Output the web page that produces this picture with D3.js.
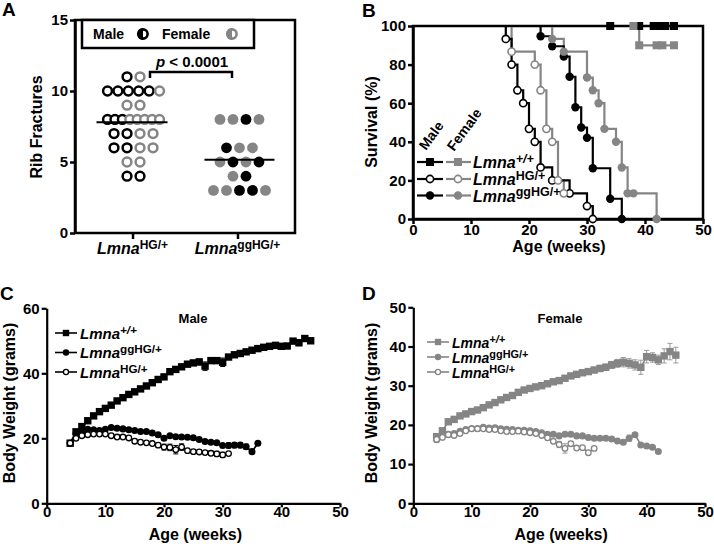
<!DOCTYPE html>
<html><head><meta charset="utf-8">
<script src="https://cdn.jsdelivr.net/npm/d3@7"></script>
<style>
body{margin:0;background:#fff}
</style></head><body>
<svg id="chart" width="714" height="550"></svg>
<script>
// ---------------- Panel A: rib fractures ----------------
const ribCategories = ["HG/+", "ggHG/+"];
const ribValuesHG = [11,11, 10,10,10,10,10,10, 9,9, 8,8,8,8,8,8,8,8, 7,7,7,7, 6,6,6,6, 5,5, 4,4];
const ribSexHG    = ["M","F", "M","M","M","M","M","F", "F","F", "M","M","M","F","F","F","F","F", "M","M","F","F", "M","M","F","F", "F","F", "M","M"];
const ribValuesGG = [8,8,8,8, 6,6,6, 5,5,5,5, 4,4, 3,3,3,3,3];
const ribSexGG    = ["F","F","M","F", "M","F","F", "F","M","F","M", "F","M", "F","F","M","M","F"];
const ribTicks = [0,5,10,15];
const pLabel = "p < 0.0001";

// ---------------- Panel B: survival ----------------
const survTicksX = [0,10,20,30,40,50];
const survTicksY = [0,20,40,60,80,100];
// [age, survival %] at each symbol
const survMaleWT   = [[34,100],[39,100],[41.5,100],[42.5,100],[43.5,100],[45,100]];
const survFemaleWT = [[38,100],[39,90],[42,90],[43,90],[45,90]];
const survMaleHG   = [[16,93.3],[17,80],[18,66.7],[19,60],[20,46.7],[21,40],[22,26.7],[24,20],[27,13.3],[30,6.7],[31,0]];
const survFemaleHG = [[17,86.7],[21,80],[22,66.7],[23,46.7],[24,40],[25,20],[26,13.3]];
const survMaleGG   = [[22,94.7],[24,89.5],[26,84.2],[27,73.7],[28,57.9],[29,47.4],[30,42.1],[31,26.3],[34,10.5],[36,0]];
const survFemaleGG = [[24,93.3],[26,86.7],[30,73.3],[31,66.7],[32,60],[33,46.7],[35,40],[36,26.7],[37,13.3],[38,13.3],[42,0]];

// ---------------- Panels C & D: body weight ----------------
const ageWeeks = [4,5,6,7,8,9,10,11,12,13,14,15,16,17,18,19,20,21,22,23,24,25,26,27,28,29,30,31,32,33,34,35,36,37,38,39,40,41,42,43,44,45];
const maleWT  = [18.5,22.0,23.6,25.4,26.9,28.2,29.2,30.2,31.5,32.5,33.5,34.3,35.2,36.1,37.1,38.1,38.9,40.5,41.2,42.0,42.8,43.2,43.5,42.2,43.9,43.9,43.4,45.0,45.7,46.1,46.6,47.1,47.6,48.0,48.3,48.6,48.3,48.4,49.9,49.4,50.7,50.0];
const maleWTErr = [0.4,0.5,0.5,0.5,0.5,0.5,0.5,0.5,0.5,0.5,0.5,0.5,0.5,0.5,0.5,0.5,0.5,0.6,0.6,0.6,0.6,0.7,0.9,1.3,0.7,0.8,1.3,0.7,0.6,0.6,0.6,0.6,0.6,0.6,0.6,0.6,0.6,0.6,0.6,0.9,0.8,0.8];
const maleGG  = [18.5,21.5,22.2,22.8,22.6,22.4,22.8,23.3,23.1,22.9,22.6,22.4,22.1,22.1,21.6,21.1,20.0,20.8,20.5,20.4,20.3,20.2,19.6,19.0,18.8,18.6,17.8,17.8,17.9,17.9,17.4,15.9,18.5];
const maleGGErr = [0.4,0.5,0.4,0.4,0.4,0.4,0.4,0.4,0.4,0.4,0.4,0.4,0.4,0.4,0.4,0.4,0.5,0.4,0.4,0.4,0.4,0.4,0.4,0.5,0.5,0.5,0.6,0.8,0.8,0.8,0.8,0.6,0.5];
const maleHG  = [18.5,20.0,20.8,21.1,21.3,21.3,21.3,20.8,20.4,20.4,20.1,19.1,18.8,18.6,18.4,17.9,17.3,17.2,16.5,17.3,16.2,15.9,15.8,15.6,15.4,15.2,14.9,15.3];
const maleHGErr = [0.4,0.5,0.5,0.5,0.5,0.5,0.5,0.5,0.5,0.5,0.5,0.5,0.5,0.5,0.5,0.6,0.9,1.0,1.3,1.0,0.6,0.5,0.5,0.5,0.7,0.8,0.8,0.6];
const femaleWT = [17.0,18.5,20.8,21.4,22.3,22.8,23.4,23.8,24.4,25.1,25.7,26.4,27.0,27.5,28.3,28.9,29.3,29.7,30.0,30.5,31.0,31.3,31.9,32.5,32.9,33.3,33.6,34.0,34.4,34.7,35.3,35.7,36.0,35.7,35.3,34.7,37.4,37.2,36.6,37.6,38.7,37.8];
const femaleWTErr = [0.5,0.6,0.5,0.5,0.5,0.5,0.5,0.5,0.5,0.5,0.5,0.5,0.5,0.5,0.5,0.5,0.5,0.5,0.5,0.6,0.6,0.6,0.6,0.6,0.6,0.7,0.7,0.7,0.8,0.8,0.9,1.0,1.2,1.2,1.3,1.8,1.6,1.2,1.2,1.8,2.1,2.0];
const femaleGG = [16.2,18.3,17.6,17.8,18.4,18.8,19.1,19.1,19.4,19.2,19.3,19.0,18.9,18.8,18.6,18.6,18.5,18.3,18.0,17.6,17.6,17.2,17.6,17.6,17.2,17.2,16.8,16.6,16.6,16.6,16.4,15.9,15.6,16.6,17.5,14.9,14.6,14.3,13.2];
const femaleGGErr = [0.5,0.5,0.4,0.4,0.4,0.4,0.4,0.4,0.4,0.4,0.4,0.4,0.4,0.4,0.4,0.4,0.4,0.4,0.4,0.4,0.4,0.4,0.4,0.4,0.4,0.4,0.4,0.4,0.4,0.4,0.4,0.5,0.6,0.8,0.5,0.4,0.4,0.4,0.4];
const femaleHG = [16.3,16.8,17.5,17.3,17.8,18.5,19.0,19.0,19.0,18.8,18.8,18.5,18.3,18.3,18.4,18.2,18.0,17.8,17.3,16.7,15.8,15.0,14.0,15.2,14.1,14.2,12.9,14.0];
const femaleHGErr = [0.5,0.5,0.5,0.5,0.5,0.5,0.5,0.5,0.5,0.5,0.5,0.5,0.5,0.5,0.5,0.5,0.5,0.5,0.5,0.6,0.6,0.8,1.2,0.6,0.5,0.5,0.5,0.5];
const weightTicksX = [0,10,20,30,40,50];
const maleTicksY = [0,20,40,60];
const femaleTicksY = [0,10,20,30,40,50];

// ---------------- drawing ----------------
const FONT = '"Liberation Sans", Arial, Helvetica, sans-serif';
const GRAY = "#858585";
const svg = d3.select("#chart").attr("font-family", FONT).attr("font-weight", "bold");

function styleAxis(g, w, fs) {
  g.attr("font-family", FONT).attr("font-size", fs).attr("font-weight", "bold");
  g.select(".domain").attr("stroke-width", w).attr("stroke", "#000");
  g.selectAll(".tick line").attr("stroke-width", w).attr("stroke", "#000");
  g.selectAll(".tick text").attr("fill", "#000");
}
function lmna(t, sup, fs, sfs, italicSup) {
  t.append("tspan").attr("font-style", "italic").text("Lmna");
  t.append("tspan").attr("font-size", sfs).attr("dy", -fs * 0.32)
    .attr("font-style", italicSup ? "italic" : "normal").text(sup);
}
function panelLetter(x, y, s) {
  svg.append("text").attr("x", x).attr("y", y).attr("font-size", 19).text(s);
}
function yTitle(x, y, s, fs) {
  svg.append("text").attr("transform", `translate(${x},${y}) rotate(-90)`)
    .attr("text-anchor", "middle").attr("font-size", fs).text(s);
}
function xTitle(x, y, s, fs) {
  svg.append("text").attr("x", x).attr("y", y).attr("text-anchor", "middle").attr("font-size", fs).text(s);
}

// ===== Panel A =====
{
  const x = d3.scalePoint().domain(ribCategories).range([75, 295]).padding(0.548);
  const y = d3.scaleLinear().domain([0, 15]).range([233, 20]);
  const gA = svg.append("g");
  gA.append("rect").attr("x", 75).attr("y", 20).attr("width", 220).attr("height", 213)
    .attr("fill", "none").attr("stroke", "#000").attr("stroke-width", 2.5);
  const ay = gA.append("g").attr("transform", "translate(75,0)")
    .call(d3.axisLeft(y).tickValues(ribTicks).tickSize(5).tickSizeOuter(0).tickPadding(2));
  styleAxis(ay, 2.5, 15);
  const ax = gA.append("g").attr("transform", "translate(0,233)")
    .call(d3.axisBottom(x).tickSize(6).tickSizeOuter(0).tickFormat(""));
  styleAxis(ax, 2.5, 15);
  ax.select(".domain").remove();

  ribCategories.forEach(c => {
    const t = gA.append("text").attr("x", x(c)).attr("y", 254).attr("text-anchor", "middle").attr("font-size", 16);
    lmna(t, c, 16, 12, false);
  });
  yTitle(42, 127, "Rib Fractures", 16);

  function layout(values, sexes, cx) {
    const rows = d3.group(values.map((v, i) => ({ v, s: sexes[i] })), d => d.v);
    const pts = [];
    rows.forEach(arr => {
      const n = arr.length;
      const sp = n > 5 ? 52 / (n - 1) : 13;
      arr.forEach((d, i) => pts.push({ x: cx + (i - (n - 1) / 2) * sp, y: y(d.v), s: d.s }));
    });
    return pts;
  }
  const ptsHG = layout(ribValuesHG, ribSexHG, x(ribCategories[0]) + 1);
  gA.selectAll("circle.hg").data(ptsHG).join("circle")
    .attr("cx", d => d.x).attr("cy", d => d.y).attr("r", 4.4)
    .attr("fill", "#fff").attr("stroke", d => d.s === "M" ? "#000" : GRAY).attr("stroke-width", 2.5);
  const ptsGG = layout(ribValuesGG, ribSexGG, x(ribCategories[1]) + 2);
  gA.selectAll("circle.gg").data(ptsGG).join("circle")
    .attr("cx", d => d.x).attr("cy", d => d.y).attr("r", 5.4)
    .attr("fill", d => d.s === "M" ? "#000" : GRAY);

  const meanHG = d3.mean(ribValuesHG), meanGG = d3.mean(ribValuesGG);
  gA.append("line").attr("x1", x(ribCategories[0]) - 36).attr("x2", x(ribCategories[0]) + 35)
    .attr("y1", y(meanHG)).attr("y2", y(meanHG)).attr("stroke", "#000").attr("stroke-width", 2);
  gA.append("line").attr("x1", x(ribCategories[1]) - 33).attr("x2", x(ribCategories[1]) + 37)
    .attr("y1", y(meanGG)).attr("y2", y(meanGG)).attr("stroke", "#000").attr("stroke-width", 2);

  // significance bracket
  gA.append("path").attr("d", "M150,78 V72 H232 V78").attr("fill", "none").attr("stroke", "#000").attr("stroke-width", 2.5);
  const pt = gA.append("text").attr("x", 192).attr("y", 67).attr("text-anchor", "middle").attr("font-size", 15);
  pt.append("tspan").attr("font-style", "italic").text(pLabel.slice(0, 1));
  pt.append("tspan").text(pLabel.slice(1));

  // legend box
  gA.append("rect").attr("x", 82).attr("y", 20).attr("width", 172).attr("height", 28)
    .attr("fill", "#fff").attr("stroke", "#000").attr("stroke-width", 2.5);
  function halfCircle(cx, cy, col) {
    gA.append("circle").attr("cx", cx).attr("cy", cy).attr("r", 4.6).attr("fill", "#fff").attr("stroke", col).attr("stroke-width", 2.6);
    gA.append("path").attr("d", `M${cx},${cy - 5.9} A5.9,5.9 0 0 0 ${cx},${cy + 5.9} Z`).attr("fill", col);
  }
  gA.append("text").attr("x", 93).attr("y", 39).attr("font-size", 14).text("Male");
  halfCircle(143, 34, "#000");
  gA.append("text").attr("x", 162).attr("y", 39).attr("font-size", 14).text("Female");
  halfCircle(232, 34, GRAY);
  panelLetter(2, 16, "A");
}

// ===== Panel B =====
{
  const x = d3.scaleLinear().domain([0, 50]).range([413, 703]);
  const y = d3.scaleLinear().domain([0, 100]).range([219, 26]);
  const g = svg.append("g");
  g.append("rect").attr("x", 413).attr("y", 26).attr("width", 290).attr("height", 193)
    .attr("fill", "none").attr("stroke", "#000").attr("stroke-width", 2.5);
  const ay = g.append("g").attr("transform", "translate(413,0)")
    .call(d3.axisLeft(y).tickValues(survTicksY).tickSize(5).tickSizeOuter(0).tickPadding(2));
  styleAxis(ay, 2.5, 15);
  const ax = g.append("g").attr("transform", "translate(0,219)")
    .call(d3.axisBottom(x).tickValues(survTicksX).tickSize(5).tickSizeOuter(0).tickPadding(0));
  styleAxis(ax, 2.5, 15);
  yTitle(377, 122, "Survival (%)", 16);
  xTitle(559, 252, "Age (weeks)", 16);

  const line = d3.line().x(d => x(d[0])).y(d => y(d[1])).curve(d3.curveStepAfter);
  const series = [
    { d: survFemaleWT, c: GRAY, m: "sq" }, { d: survFemaleHG, c: GRAY, m: "open" }, { d: survFemaleGG, c: GRAY, m: "fill" },
    { d: survMaleWT, c: "#000", m: "sq" }, { d: survMaleHG, c: "#000", m: "open" }, { d: survMaleGG, c: "#000", m: "fill" }
  ];
  series.forEach(s => {
    g.append("path").attr("d", line([[0, 100], ...s.d])).attr("fill", "none").attr("stroke", s.c).attr("stroke-width", 2.2);
  });
  function marker(sel, m, c, px, py) {
    if (m === "sq") sel.append("rect").attr("x", px - 4).attr("y", py - 4).attr("width", 8).attr("height", 8).attr("fill", c);
    else if (m === "open") sel.append("circle").attr("cx", px).attr("cy", py).attr("r", 3.6).attr("fill", "#fff").attr("stroke", c).attr("stroke-width", 1.6);
    else sel.append("circle").attr("cx", px).attr("cy", py).attr("r", 4.2).attr("fill", c);
  }
  [3, 4, 5, 0, 1, 2].forEach(i => {
    const s = series[i];
    s.d.forEach(p => marker(g, s.m, s.c, x(p[0]), y(p[1])));
  });
  // legend
  g.append("text").attr("transform", "translate(426,151) rotate(-54)").attr("font-size", 14).text("Male");
  g.append("text").attr("transform", "translate(454,152) rotate(-54)").attr("font-size", 14).text("Female");
  const rows = [["+/+", "sq", 162, true], ["HG/+", "open", 179, false], ["ggHG/+", "fill", 195.5, false]];
  rows.forEach(r => {
    g.append("line").attr("x1", 417).attr("x2", 443).attr("y1", r[2]).attr("y2", r[2]).attr("stroke", "#000").attr("stroke-width", 2.2);
    marker(g, r[1], "#000", 430, r[2]);
    g.append("line").attr("x1", 446).attr("x2", 471).attr("y1", r[2]).attr("y2", r[2]).attr("stroke", GRAY).attr("stroke-width", 2.2);
    marker(g, r[1], GRAY, 458, r[2]);
    const t = g.append("text").attr("x", 473).attr("y", r[2] + 6).attr("font-size", 16);
    lmna(t, r[0], 16, 12.5, r[3]);
  });
  panelLetter(362, 17, "B");
}

// ===== Panels C & D =====
function weightPanel(opt) {
  const x = d3.scaleLinear().domain([0, 50]).range([opt.x0, opt.x1]);
  const y = d3.scaleLinear().domain([0, opt.ymax]).range([503.3, opt.yTop]);
  const g = svg.append("g");
  const ay = g.append("g").attr("transform", `translate(${opt.x0},0)`)
    .call(d3.axisLeft(y).tickValues(opt.ticksY).tickSize(5).tickSizeOuter(0).tickPadding(2));
  styleAxis(ay, 2.2, 15);
  const ax = g.append("g").attr("transform", "translate(0,503.3)")
    .call(d3.axisBottom(x).tickValues(weightTicksX).tickSize(4).tickSizeOuter(0).tickPadding(-1));
  styleAxis(ax, 2.2, 15);
  yTitle(opt.yTitleX, 403, "Body Weight (grams)", 16);
  xTitle((opt.x0 + opt.x1) / 2 + 2, 540, "Age (weeks)", 16);
  g.append("text").attr("x", opt.titleX).attr("y", 323).attr("text-anchor", "middle").attr("font-size", 13).text(opt.title);

  const line = d3.line().x(d => x(d[0])).y(d => y(d[1]));
  function marker(m, c, px, py, sz) {
    if (m === "sq") g.append("rect").attr("x", px - sz).attr("y", py - sz).attr("width", 2 * sz).attr("height", 2 * sz).attr("fill", c);
    else if (m === "open") g.append("circle").attr("cx", px).attr("cy", py).attr("r", sz * 0.75).attr("fill", "#fff").attr("stroke", c).attr("stroke-width", 1.3);
    else g.append("circle").attr("cx", px).attr("cy", py).attr("r", sz * 0.95).attr("fill", c);
  }
  opt.series.forEach(s => {
    const pts = s.v.map((v, i) => [ageWeeks[i], v, s.e[i]]);
    pts.forEach(p => {
      const px = x(p[0]), y1 = y(p[1] - p[2]), y2 = y(p[1] + p[2]);
      g.append("path").attr("d", `M${px},${y1}V${y2}M${px - 2.5},${y1}H${px + 2.5}M${px - 2.5},${y2}H${px + 2.5}`)
        .attr("stroke", opt.errColor).attr("stroke-width", 1).attr("fill", "none");
    });
    g.append("path").attr("d", line(pts)).attr("fill", "none").attr("stroke", opt.color).attr("stroke-width", 1.6);
    pts.forEach(p => marker(s.m, opt.color, x(p[0]), y(p[1]), s.m === "sq" ? 3.7 : 3.7));
  });
  // legend
  opt.legend.forEach((r, i) => {
    const ly = opt.legY[i];
    g.append("line").attr("x1", opt.legX).attr("x2", opt.legX + 22).attr("y1", ly).attr("y2", ly).attr("stroke", opt.color).attr("stroke-width", 1.6);
    marker(r[1], opt.color, opt.legX + 11, ly, r[1] === "sq" ? 3.2 : 3.4);
    const t = g.append("text").attr("x", opt.legX + 25).attr("y", ly + 5.5).attr("font-size", opt.legFs);
    lmna(t, r[0], opt.legFs, opt.legFs * 0.78, r[2]);
  });
  panelLetter(opt.letterX, 300, opt.letter);
}

weightPanel({
  x0: 46.7, x1: 340, yTop: 308.3, ymax: 60, ticksY: maleTicksY, color: "#000", errColor: "#000",
  yTitleX: 15, title: "Male", titleX: 193, letter: "C", letterX: 0,
  series: [{ v: maleWT, e: maleWTErr, m: "sq" }, { v: maleGG, e: maleGGErr, m: "fill" }, { v: maleHG, e: maleHGErr, m: "open" }],
  legend: [["+/+", "sq", true], ["ggHG/+", "fill", false], ["HG/+", "open", false]],
  legX: 55, legY: [333, 352.5, 372], legFs: 15
});
weightPanel({
  x0: 413.3, x1: 705, yTop: 307.3, ymax: 50, ticksY: femaleTicksY, color: GRAY, errColor: "#9a9a9a",
  yTitleX: 377, title: "Female", titleX: 560, letter: "D", letterX: 362,
  series: [{ v: femaleWT, e: femaleWTErr, m: "sq" }, { v: femaleGG, e: femaleGGErr, m: "fill" }, { v: femaleHG, e: femaleHGErr, m: "open" }],
  legend: [["+/+", "sq", true], ["ggHG/+", "fill", false], ["HG/+", "open", false]],
  legX: 427, legY: [342, 357, 372], legFs: 14
});
</script>
</body></html>
